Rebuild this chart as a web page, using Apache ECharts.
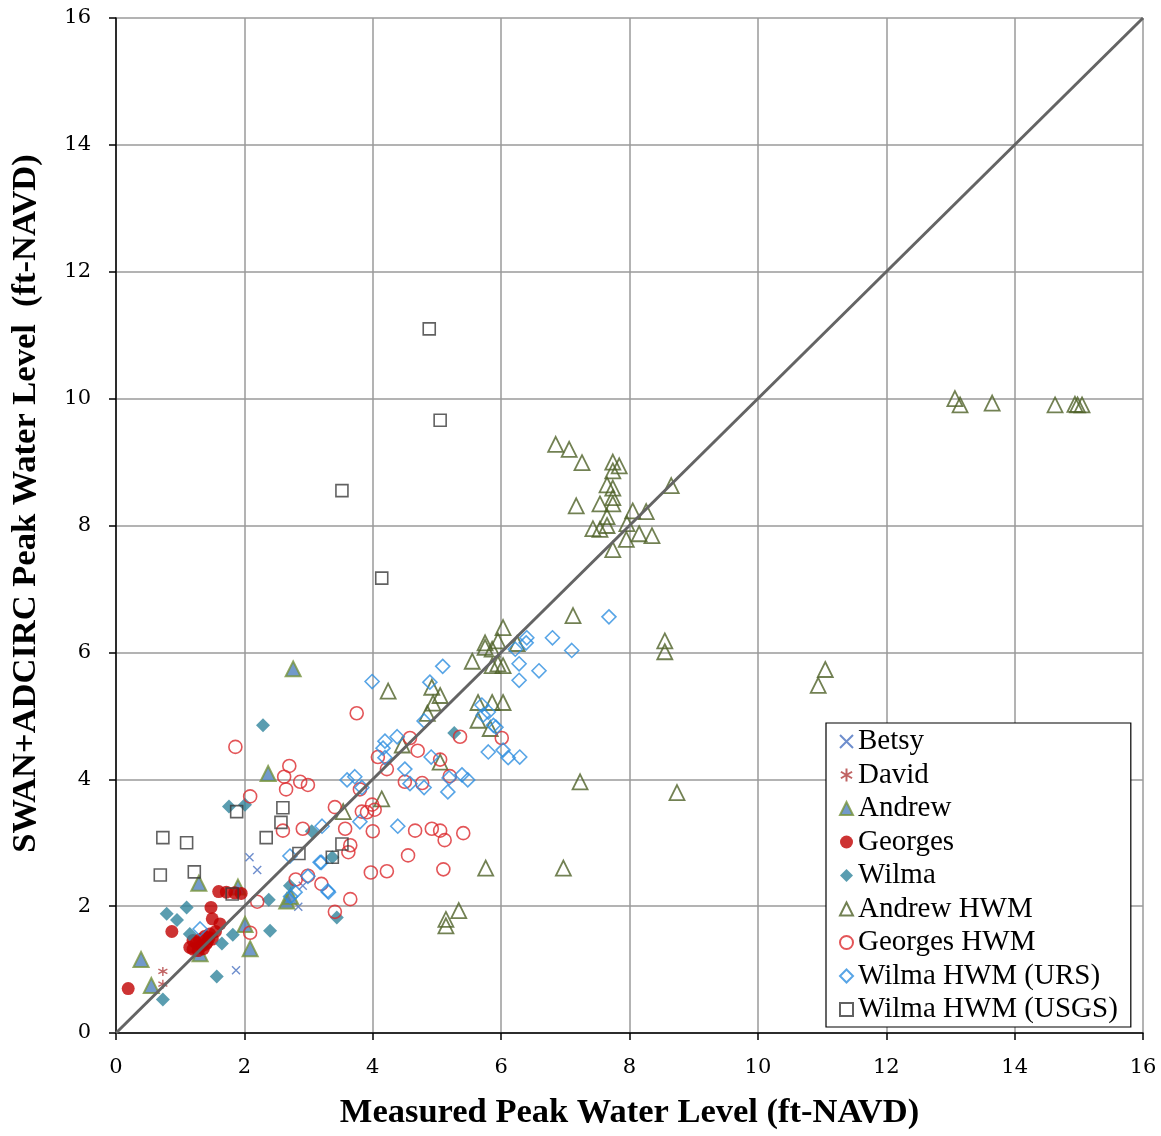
<!DOCTYPE html>
<html><head><meta charset="utf-8">
<script src="https://cdn.jsdelivr.net/npm/echarts@6/dist/echarts.min.js"></script>
<style>html,body{margin:0;padding:0;background:#fff}#c{width:1161px;height:1136px}</style>
</head><body><div id="c"></div>
<script>
const xTicks = [0,2,4,6,8,10,12,14,16];
const diagonal = [[0,0],[16,16]];
const betsy = [[2.08,2.77],[2.2,2.57],[1.87,0.99],[2.84,1.99],[2.91,2.32]];
const david = [[0.73,0.97],[0.73,0.77]];
const andrew = [[2.76,5.74],[2.37,4.09],[1.29,2.36],[0.39,1.16],[0.55,0.75],[2.01,1.71],[2.09,1.33],[1.31,1.25],[1.9,2.3],[2.66,2.08],[2.72,2.15]];
const georges = [[0.19,0.70],[0.87,1.6],[1.48,1.98],[1.6,2.23],[1.72,2.22],[1.85,2.21],[1.95,2.2],[1.5,1.8],[1.62,1.72],[1.15,1.35],[1.2,1.32],[1.25,1.42],[1.3,1.47],[1.33,1.37],[1.38,1.52],[1.42,1.43],[1.46,1.56],[1.5,1.48],[1.28,1.3],[1.36,1.33],[1.55,1.6],[1.2,1.46],[1.4,1.4],[1.45,1.5]];
const wilma = [[2.29,4.85],[1.76,3.57],[2.01,3.6],[0.79,1.88],[0.95,1.78],[1.1,1.98],[1.15,1.56],[1.65,1.41],[1.82,1.55],[1.57,0.89],[0.73,0.53],[2.38,2.1],[2.4,1.61],[2.71,2.32],[3.05,3.18],[3.37,2.77],[5.27,4.73],[3.44,1.82]];
const andrewHWM = [[13.07,10.0],[13.15,9.9],[13.65,9.93],[14.63,9.9],[14.94,9.91],[14.98,9.9],[15.05,9.9],
  [10.94,5.48],[11.05,5.73],[8.55,6.18],[8.55,6.01],[8.74,3.79],[7.23,3.96],[7.12,6.58],[6.97,2.6],[5.76,2.6],[5.34,1.93],[5.14,1.79],[5.14,1.69],
  [6.85,9.28],[7.06,9.2],[7.26,8.99],[7.74,9.0],[7.84,8.94],[7.74,8.86],[7.65,8.64],[7.74,8.59],[7.74,8.44],[7.74,8.34],[7.54,8.34],[7.17,8.31],[8.65,8.63],[7.65,8.14],[8.05,8.23],[8.26,8.22],[7.43,7.95],[7.54,7.94],[7.65,8.0],[7.96,8.03],[8.15,7.87],[8.35,7.84],[7.95,7.78],[7.74,7.62],
  [6.03,6.39],[5.75,6.15],[5.75,6.08],[5.86,6.05],[5.95,6.18],[6.25,6.14],[5.55,5.86],[5.86,5.79],[5.95,5.82],[6.03,5.79],[4.24,5.39],[4.92,5.45],[5.05,5.32],[4.94,5.2],[4.85,5.04],[5.64,5.21],[5.86,5.21],[6.03,5.21],[5.64,4.93],[5.83,4.8],[4.46,4.54],[5.05,4.27],[4.14,3.69],[3.54,3.49]];
const georgesHWM = [[1.86,4.51],[2.7,4.21],[2.62,4.04],[2.65,3.84],[2.87,3.96],[2.99,3.91],[2.09,3.73],[2.6,3.19],[2.91,3.22],[3.41,3.56],[3.57,3.22],[3.65,2.96],[3.62,2.85],[2.8,2.42],[2.99,2.48],[3.2,2.35],[3.65,2.11],[2.2,2.07],[3.97,2.53],[4.0,3.18],[3.8,3.84],[3.83,3.49],[3.75,5.04],[2.09,1.58],[3.41,1.91],[4.08,4.35],[4.22,4.16],[4.58,4.65],[4.7,4.45],[5.05,4.31],[5.2,4.05],[5.36,4.67],[4.5,3.96],[4.77,3.94],[3.99,3.6],[4.03,3.52],[3.91,3.48],[4.66,3.19],[4.92,3.22],[5.05,3.19],[5.12,3.04],[5.41,3.15],[4.55,2.8],[4.22,2.55],[5.1,2.58],[6.01,4.65]];
const wilmaURS = [[7.68,6.56],[6.4,6.23],[6.39,6.15],[6.8,6.23],[6.22,6.05],[7.1,6.03],[6.28,5.82],[6.59,5.71],[6.28,5.56],[5.09,5.78],[3.99,5.54],[4.89,5.53],[4.8,4.92],[5.7,5.17],[5.8,5.06],[5.72,5.01],[5.88,4.85],[5.92,4.82],[5.8,4.43],[6.03,4.46],[6.11,4.34],[6.29,4.35],[4.19,4.6],[4.38,4.67],[4.16,4.49],[4.19,4.34],[4.5,4.16],[4.91,4.35],[4.58,3.93],[4.8,3.87],[5.19,4.02],[5.17,3.8],[5.39,4.07],[5.48,3.99],[4.39,3.26],[3.83,3.87],[3.6,3.99],[3.72,4.04],[3.21,3.26],[3.8,3.33],[3.18,2.69],[2.99,2.47],[3.3,2.24],[2.71,2.79],[3.2,2.69],[3.31,2.22],[2.79,2.22],[1.31,1.64],[2.72,2.15]];
const wilmaUSGS = [[0.73,3.08],[0.69,2.49],[1.1,3.0],[1.22,2.54],[1.81,2.19],[1.88,3.49],[2.34,3.08],[2.6,3.55],[2.57,3.32],[2.85,2.83],[3.37,2.77],[3.52,2.98],[3.52,8.55],[4.14,7.17],[4.88,11.1],[5.05,9.66]];

const SERIF = '"Liberation Serif","Times New Roman",serif';
const TICKFONT = '"DejaVu Serif",serif';
const xPath = 'path://M0,0L10,10M10,0L0,10';
const starPath = 'path://M5,0L5,10M0.7,2.5L9.3,7.5M0.7,7.5L9.3,2.5';

function sc(name, data, symbol, size, style, z) {
  return {name, type:'scatter', data, symbol, symbolSize:size, itemStyle:style, z:z||2, emphasis:{disabled:true}, animation:false};
}

const chart = echarts.init(document.getElementById('c'), null, {renderer:'canvas'});
chart.setOption({
  animation:false,
  backgroundColor:'#fff',
  grid:{left:116,right:18,top:18,bottom:96},
  xAxis:{type:'value',min:xTicks[0],max:xTicks[xTicks.length-1],interval:2,
    name:'Measured Peak Water Level (ft-NAVD)',nameLocation:'middle',nameGap:63,
    nameTextStyle:{fontFamily:SERIF,fontWeight:'bold',fontSize:34.5,color:'#000'},
    axisLine:{show:true,onZero:false,lineStyle:{color:'#000',width:1.5}},
    axisTick:{show:true,inside:false,length:7,lineStyle:{color:'#000',width:1.5}},
    axisLabel:{fontFamily:TICKFONT,fontSize:21,color:'#000',margin:24},
    splitLine:{show:true,lineStyle:{color:'#9a9a9a',width:1.5}}},
  yAxis:{type:'value',min:xTicks[0],max:xTicks[xTicks.length-1],interval:2,
    name:'SWAN+ADCIRC Peak Water Level  (ft-NAVD)',nameLocation:'middle',nameGap:72,
    nameTextStyle:{fontFamily:SERIF,fontWeight:'bold',fontSize:34.5,color:'#000',padding:[0,0,0,44]},
    axisLine:{show:true,onZero:false,lineStyle:{color:'#000',width:1.5}},
    axisTick:{show:true,inside:false,length:7,lineStyle:{color:'#000',width:1.5}},
    axisLabel:{fontFamily:TICKFONT,fontSize:21,color:'#000',margin:25},
    splitLine:{show:true,lineStyle:{color:'#9a9a9a',width:1.5}}},
  legend:{orient:'vertical',left:826,top:723,padding:[4,13,3,13],itemGap:4.5,itemWidth:13,itemHeight:13,
    borderColor:'#000',borderWidth:1.2,backgroundColor:'#fff',borderRadius:0,
    textStyle:{fontFamily:SERIF,fontSize:29,lineHeight:29,color:'#000'},
    data:['Betsy','David','Andrew','Georges','Wilma','Andrew HWM','Georges HWM','Wilma HWM (URS)','Wilma HWM (USGS)']},
  series:[
    sc('Betsy', betsy, xPath, 8, {color:'rgba(0,0,0,0)',borderColor:'#4a72c0',borderWidth:1.4}),
    sc('David', david, starPath, 9, {color:'rgba(0,0,0,0)',borderColor:'#b03c3c',borderWidth:1.4}),
    sc('Andrew', andrew, 'triangle', 15, {color:'#4f81bd',borderColor:'#77933c',borderWidth:2}),
    sc('Georges', georges, 'circle', 13, {color:'#c00000'}),
    sc('Wilma', wilma, 'diamond', 14, {color:'#31859c'}),
    sc('Andrew HWM', andrewHWM, 'triangle', 15, {color:'rgba(0,0,0,0)',borderColor:'#4f6228',borderWidth:1.8}),
    sc('Georges HWM', georgesHWM, 'circle', 13, {color:'rgba(0,0,0,0)',borderColor:'#dc2a2e',borderWidth:1.6}),
    sc('Wilma HWM (URS)', wilmaURS, 'diamond', 14, {color:'rgba(0,0,0,0)',borderColor:'#2e8fe0',borderWidth:1.6}),
    sc('Wilma HWM (USGS)', wilmaUSGS, 'rect', 12, {color:'rgba(0,0,0,0)',borderColor:'#3a3a3a',borderWidth:1.6}),
    {type:'line',data:diagonal,symbol:'none',lineStyle:{color:'#646464',width:3},z:5,silent:true,animation:false}
  ]
});
</script></body></html>
